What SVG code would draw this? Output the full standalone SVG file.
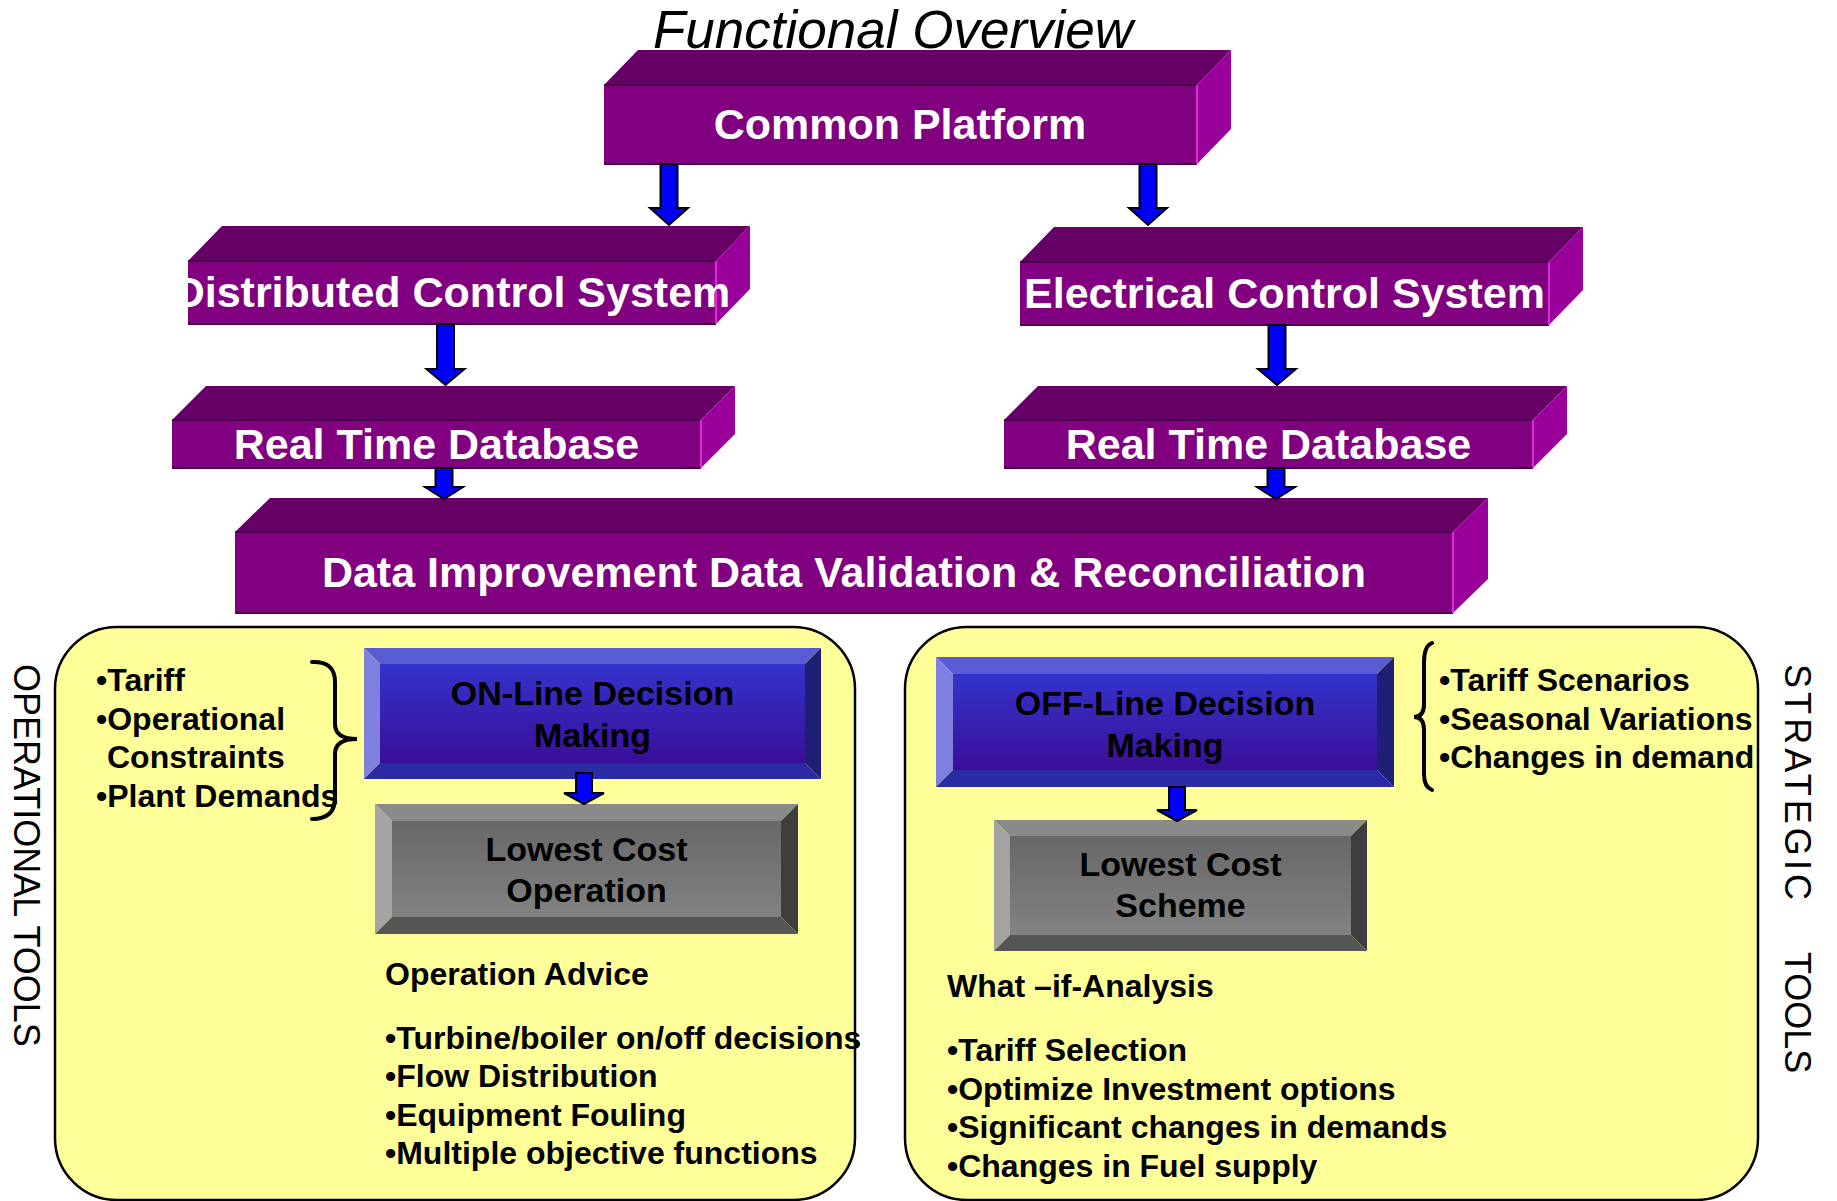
<svg xmlns="http://www.w3.org/2000/svg" width="1837" height="1201" viewBox="0 0 1837 1201">
  <defs>
    <linearGradient id="blueFace" x1="0" y1="0" x2="0" y2="1">
      <stop offset="0" stop-color="#3434CC"/>
      <stop offset="1" stop-color="#3A0E98"/>
    </linearGradient>
    <linearGradient id="grayFace" x1="0" y1="0" x2="0" y2="1">
      <stop offset="0" stop-color="#686868"/>
      <stop offset="1" stop-color="#828282"/>
    </linearGradient>
    <clipPath id="clipDcs"><rect x="188" y="226" width="562" height="98"/></clipPath>
  </defs>
  <style>
    .top{fill:#660066}
    .front{fill:#800080}
    .side{fill:#990099}
    .edgeD{stroke:#4A0048;stroke-width:2}
    .edgeR{stroke:#FF33FF;stroke-width:1.5}
    .lbl{font-family:"Liberation Sans",Arial,sans-serif;font-weight:bold;font-size:43px;fill:#FFFFFF;text-anchor:middle}
    .arrow{fill:#0000FF;stroke:#000000;stroke-width:2;stroke-linejoin:miter}
    .panel{fill:#FFFF99;stroke:#000000;stroke-width:2.5}
    .txt{font-family:"Liberation Sans",Arial,sans-serif;font-weight:bold;font-size:32px;fill:#000000}
    .btxt{font-family:"Liberation Sans",Arial,sans-serif;font-weight:bold;font-size:34px;fill:#000000;text-anchor:middle}
    .vert{font-family:"Liberation Sans",Arial,sans-serif;font-size:36px;fill:#000000}
    .brace{fill:none;stroke:#000000;stroke-width:4;stroke-linecap:round}
    .bT{fill:#5B5BD5}.bL{fill:#8080E0}.bR{fill:#1F1F75}.bB{fill:#2B2BA5}
    .gT{fill:#8A8A8A}.gL{fill:#A3A3A3}.gR{fill:#3E3E3E}.gB{fill:#565656}
  </style>

  <rect width="1837" height="1201" fill="#FFFFFF"/>

  <!-- heading -->
  <text x="893" y="48" font-family="'Liberation Sans',Arial,sans-serif" font-style="italic" font-size="53" text-anchor="middle" fill="#000000">Functional Overview</text>

  <!-- tool panels -->
  <g id="panel-operational">
    <rect class="panel" x="55" y="627" width="800" height="573" rx="62" ry="62"/>
    <text class="vert" transform="translate(14,664) rotate(90)">OPERATIONAL TOOLS</text>
  </g>
  <g id="panel-strategic">
    <rect class="panel" x="905" y="627" width="853" height="573" rx="62" ry="62"/>
    <text class="vert" transform="translate(1785,664) rotate(90)"><tspan textLength="236" lengthAdjust="spacing">STRATEGIC</tspan><tspan x="288">TOOLS</tspan></text>
  </g>

  <!-- platform layer: extruded boxes -->
  <g id="common-platform">
    <polygon class="top" points="604,85 638,50 1231,50 1197,85"/>
    <polygon class="side" points="1197,85 1231,50 1231,129 1197,164"/>
    <rect class="front" x="604" y="85" width="593" height="79"/>
    <line class="edgeD" x1="604" y1="85" x2="1197" y2="85"/>
    <line class="edgeD" x1="604" y1="164" x2="1197" y2="164"/>
    <line class="edgeR" x1="1197" y1="85" x2="1197" y2="164"/>
    <text class="lbl" x="900" y="139">Common Platform</text>
  </g>

  <g id="distributed-control">
    <polygon class="top" points="188,261 222,226 750,226 716,261"/>
    <polygon class="side" points="716,261 750,226 750,289 716,324"/>
    <rect class="front" x="188" y="261" width="528" height="63"/>
    <line class="edgeD" x1="188" y1="261" x2="716" y2="261"/>
    <line class="edgeD" x1="188" y1="324" x2="716" y2="324"/>
    <line class="edgeR" x1="716" y1="261" x2="716" y2="324"/>
    <text class="lbl" x="452" y="307" clip-path="url(#clipDcs)">Distributed Control System</text>
  </g>

  <g id="electrical-control">
    <polygon class="top" points="1020,262 1054,227 1583,227 1549,262"/>
    <polygon class="side" points="1549,262 1583,227 1583,290 1549,325"/>
    <rect class="front" x="1020" y="262" width="529" height="63"/>
    <line class="edgeD" x1="1020" y1="262" x2="1549" y2="262"/>
    <line class="edgeD" x1="1020" y1="325" x2="1549" y2="325"/>
    <line class="edgeR" x1="1549" y1="262" x2="1549" y2="325"/>
    <text class="lbl" x="1284.5" y="308">Electrical Control System</text>
  </g>

  <g id="rtdb-left">
    <polygon class="top" points="172,420 206,386 735,386 701,420"/>
    <polygon class="side" points="701,420 735,386 735,434 701,468"/>
    <rect class="front" x="172" y="420" width="529" height="48"/>
    <line class="edgeD" x1="172" y1="420" x2="701" y2="420"/>
    <line class="edgeD" x1="172" y1="468" x2="701" y2="468"/>
    <line class="edgeR" x1="701" y1="420" x2="701" y2="468"/>
    <text class="lbl" x="436.5" y="459">Real Time Database</text>
  </g>

  <g id="rtdb-right">
    <polygon class="top" points="1004,420 1038,386 1567,386 1533,420"/>
    <polygon class="side" points="1533,420 1567,386 1567,434 1533,468"/>
    <rect class="front" x="1004" y="420" width="529" height="48"/>
    <line class="edgeD" x1="1004" y1="420" x2="1533" y2="420"/>
    <line class="edgeD" x1="1004" y1="468" x2="1533" y2="468"/>
    <line class="edgeR" x1="1533" y1="420" x2="1533" y2="468"/>
    <text class="lbl" x="1268.5" y="459">Real Time Database</text>
  </g>

  <g id="data-improvement">
    <polygon class="top" points="235,532 270,498 1488,498 1453,532"/>
    <polygon class="side" points="1453,532 1488,498 1488,579 1453,613"/>
    <rect class="front" x="235" y="532" width="1218" height="81"/>
    <line class="edgeD" x1="235" y1="532" x2="1453" y2="532"/>
    <line class="edgeD" x1="235" y1="613" x2="1453" y2="613"/>
    <line class="edgeR" x1="1453" y1="532" x2="1453" y2="613"/>
    <text class="lbl" x="844" y="587">Data Improvement Data Validation &amp; Reconciliation</text>
  </g>

  <!-- decision layer: bevelled buttons -->
  <g id="online-decision">
    <rect x="380" y="664" width="425" height="99" fill="url(#blueFace)"/>
    <polygon class="bT" points="364,648 821,648 805,664 380,664"/>
    <polygon class="bL" points="364,648 380,664 380,763 364,779"/>
    <polygon class="bR" points="821,648 821,779 805,763 805,664"/>
    <polygon class="bB" points="364,779 380,763 805,763 821,779"/>
    <text class="btxt" x="592.5" y="705">ON-Line Decision</text>
    <text class="btxt" x="592.5" y="747">Making</text>
  </g>

  <g id="lowest-cost-operation">
    <rect x="392" y="821" width="389" height="96" fill="url(#grayFace)"/>
    <polygon class="gT" points="375,804 798,804 781,821 392,821"/>
    <polygon class="gL" points="375,804 392,821 392,917 375,934"/>
    <polygon class="gR" points="798,804 798,934 781,917 781,821"/>
    <polygon class="gB" points="375,934 392,917 781,917 798,934"/>
    <text class="btxt" x="586.5" y="861">Lowest Cost</text>
    <text class="btxt" x="586.5" y="902">Operation</text>
  </g>

  <g id="offline-decision">
    <rect x="953" y="674" width="424" height="96" fill="url(#blueFace)"/>
    <polygon class="bT" points="936,657 1394,657 1377,674 953,674"/>
    <polygon class="bL" points="936,657 953,674 953,770 936,787"/>
    <polygon class="bR" points="1394,657 1394,787 1377,770 1377,674"/>
    <polygon class="bB" points="936,787 953,770 1377,770 1394,787"/>
    <text class="btxt" x="1165" y="715">OFF-Line Decision</text>
    <text class="btxt" x="1165" y="757">Making</text>
  </g>

  <g id="lowest-cost-scheme">
    <rect x="1010" y="836" width="341" height="99" fill="url(#grayFace)"/>
    <polygon class="gT" points="994,820 1367,820 1351,836 1010,836"/>
    <polygon class="gL" points="994,820 1010,836 1010,935 994,951"/>
    <polygon class="gR" points="1367,820 1367,951 1351,935 1351,836"/>
    <polygon class="gB" points="994,951 1010,935 1351,935 1367,951"/>
    <text class="btxt" x="1180.5" y="876">Lowest Cost</text>
    <text class="btxt" x="1180.5" y="917">Scheme</text>
  </g>

  <!-- inputs and outcomes -->
  <g id="online-inputs">
    <text class="txt" x="96" y="691">•Tariff</text>
    <text class="txt" x="96" y="730">•Operational</text>
    <text class="txt" x="107" y="768">Constraints</text>
    <text class="txt" x="96" y="807">•Plant Demands</text>
    <path class="brace" d="M312,662 Q335,661 335,682 L335,724 Q335,739 357,739 Q335,739 335,754 L335,798 Q335,819 312,819"/>
  </g>

  <g id="offline-inputs">
    <path class="brace" d="M1432,643 Q1424,646 1424,662 L1424,704 Q1424,717 1414,717 Q1424,717 1424,730 L1424,774 Q1424,787 1432,790"/>
    <text class="txt" x="1439" y="691">•Tariff Scenarios</text>
    <text class="txt" x="1439" y="730">•Seasonal Variations</text>
    <text class="txt" x="1439" y="768">•Changes in demand</text>
  </g>

  <g id="operation-advice">
    <text class="txt" x="385" y="985">Operation Advice</text>
    <text class="txt" x="385" y="1049">•Turbine/boiler on/off decisions</text>
    <text class="txt" x="385" y="1087">•Flow Distribution</text>
    <text class="txt" x="385" y="1126">•Equipment Fouling</text>
    <text class="txt" x="385" y="1164">•Multiple objective functions</text>
  </g>

  <g id="what-if-analysis">
    <text class="txt" x="947" y="997">What –if-Analysis</text>
    <text class="txt" x="947" y="1061">•Tariff Selection</text>
    <text class="txt" x="947" y="1100">•Optimize Investment options</text>
    <text class="txt" x="947" y="1138">•Significant changes in demands</text>
    <text class="txt" x="947" y="1177">•Changes in Fuel supply</text>
  </g>

  <!-- connectors -->
  <g id="connectors">
    <polygon class="arrow" points="660.5,164 677.5,164 677.5,208 688,208 669,225 650,208 660.5,208"/>
    <polygon class="arrow" points="1139.5,164 1156.5,164 1156.5,208 1167,208 1148,225 1129,208 1139.5,208"/>
    <polygon class="arrow" points="437,324 454,324 454,369 464.5,369 445.5,385 426.5,369 437,369"/>
    <polygon class="arrow" points="1268.5,325 1285.5,325 1285.5,369 1296,369 1277,385 1258,369 1268.5,369"/>
    <polygon class="arrow" points="435.5,468 452.5,468 452.5,487 463,487 444,499 425,487 435.5,487"/>
    <polygon class="arrow" points="1267.5,468 1284.5,468 1284.5,487 1295,487 1276,499 1257,487 1267.5,487"/>
    <polygon class="arrow" points="576,773 592,773 592,793 604,793 584,804 564,793 576,793"/>
    <polygon class="arrow" points="1169,787 1185,787 1185,810 1197,810 1177,821 1157,810 1169,810"/>
  </g>
</svg>
